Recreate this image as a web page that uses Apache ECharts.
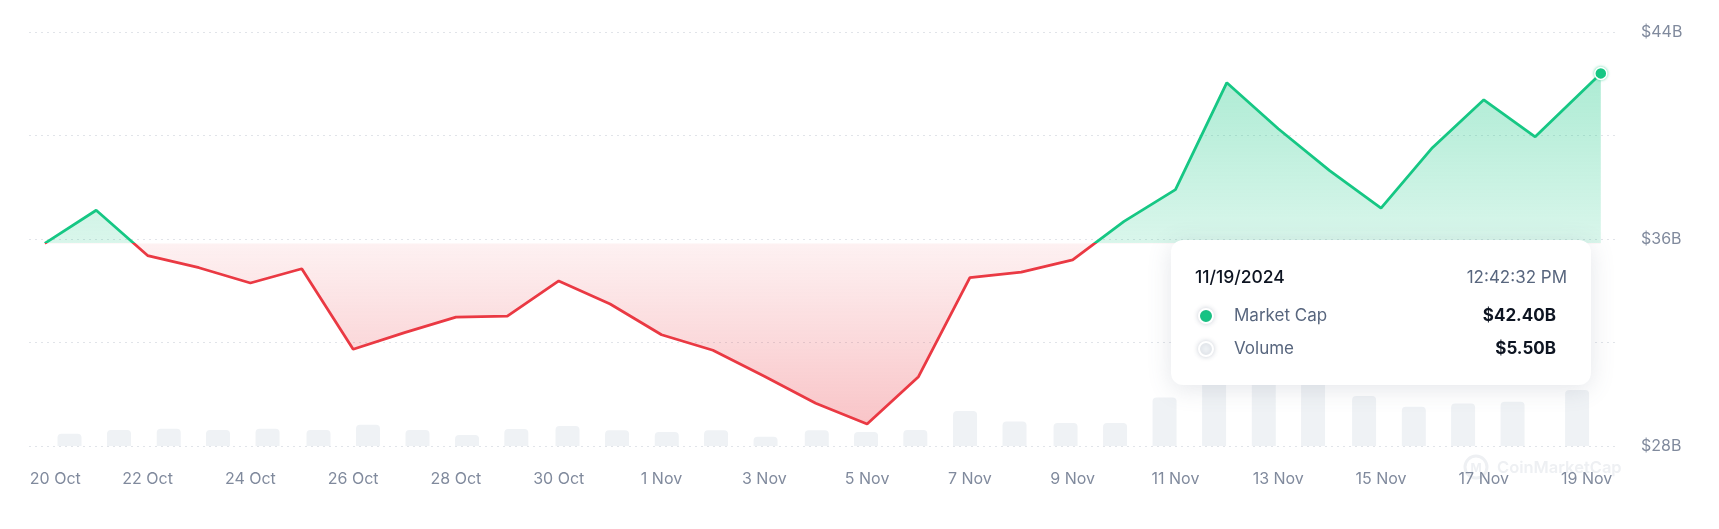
<!DOCTYPE html>
<html><head><meta charset="utf-8">
<script src="https://cdn.jsdelivr.net/npm/echarts@6/dist/echarts.min.js"></script>
<style>html,body{margin:0;padding:0;background:#fff;overflow:hidden}#c{width:1719px;height:529px}</style>
</head><body><div id="c"></div>
<script>
// ---- data (values in billions of USD) ----
const capTimes = ['2024-10-20 00:00','2024-10-21 00:00','2024-10-22 00:00','2024-10-23 00:00','2024-10-24 00:00','2024-10-25 00:00','2024-10-26 00:00','2024-10-27 00:00','2024-10-28 00:00','2024-10-29 00:00','2024-10-30 00:00','2024-10-31 00:00','2024-11-01 00:00','2024-11-02 00:00','2024-11-03 00:00','2024-11-04 00:00','2024-11-05 00:00','2024-11-06 00:00','2024-11-07 00:00','2024-11-08 00:00','2024-11-09 00:00','2024-11-10 00:00','2024-11-11 00:00','2024-11-12 00:00','2024-11-13 00:00','2024-11-14 00:00','2024-11-15 00:00','2024-11-16 00:00','2024-11-17 00:00','2024-11-18 00:00','2024-11-19 06:38'];
const capValues = [35.83,37.11,35.36,34.89,34.30,34.85,31.74,32.38,32.98,33.02,34.38,33.49,32.30,31.70,30.70,29.65,28.85,30.68,34.51,34.72,35.19,36.68,37.91,42.04,40.26,38.64,37.19,39.53,41.38,39.95,42.40];
const volTimes = ['2024-10-20 11:32','2024-10-21 10:39','2024-10-22 09:52','2024-10-23 08:53','2024-10-24 08:01','2024-10-25 07:49','2024-10-26 06:56','2024-10-27 06:03','2024-10-28 05:11','2024-10-29 04:12','2024-10-30 04:06','2024-10-31 03:14','2024-11-01 02:27','2024-11-02 01:28','2024-11-03 00:35','2024-11-04 00:30','2024-11-04 23:31','2024-11-05 22:32','2024-11-06 21:45','2024-11-07 20:51','2024-11-08 20:41','2024-11-09 19:48','2024-11-10 18:55','2024-11-11 18:03','2024-11-12 17:15','2024-11-13 16:16','2024-11-14 16:06','2024-11-15 15:19','2024-11-16 14:20','2024-11-17 13:26','2024-11-18 19:34'];
const volValues = [1.21,1.57,1.70,1.57,1.70,1.57,2.09,1.57,1.08,1.67,1.96,1.54,1.37,1.54,0.91,1.54,1.37,1.57,3.44,2.42,2.26,2.26,4.78,7.9,8.6,7.1,4.91,3.86,4.19,4.35,5.50];
const xTickDates = ['2024-10-20','2024-10-22','2024-10-24','2024-10-26','2024-10-28','2024-10-30','2024-11-01','2024-11-03','2024-11-05','2024-11-07','2024-11-09','2024-11-11','2024-11-13','2024-11-15','2024-11-17','2024-11-19'];
const xTickLabels = ['20 Oct','22 Oct','24 Oct','26 Oct','28 Oct','30 Oct','1 Nov','3 Nov','5 Nov','7 Nov','9 Nov','11 Nov','13 Nov','15 Nov','17 Nov','19 Nov'];
const yTickValues = [28,32,36,40,44];
const yTickLabels = ['$28B','','$36B','','$44B'];
const tipDate = '11/19/2024';
const tipTime = '12:42:32 PM';
const seriesNames = ['Market Cap','Volume'];

function ts(s){const p=s.split(' ');const d=p[0].split('-').map(Number);const t=(p[1]||'00:00').split(':').map(Number);return Date.UTC(d[0],d[1]-1,d[2],t[0],t[1]);}
const capData = capTimes.map((t,i)=>[ts(t),capValues[i]]);
const volData = volTimes.map((t,i)=>[ts(t),volValues[i]]);
const tickTs = xTickDates.map(ts);
const base = capValues[0];
const last = capData.length-1;
const GREEN='#16c784', RED='#ea3943', FONT='Inter';

const chart = echarts.init(document.getElementById('c'), null, {renderer:'canvas'});
const fmtB = v => '$' + v.toFixed(2) + 'B';

chart.setOption({
  animation:false,
  grid:{left:29,right:104,top:32,bottom:83,containLabel:false},
  xAxis:{type:'value',min:ts('2024-10-19 16:37'),max:ts('2024-11-19 13:16'),scale:true,
    axisLine:{show:false},axisTick:{show:false},splitLine:{show:false},
    axisLabel:{customValues:tickTs,margin:25,fontFamily:FONT,fontSize:16,color:'#808a9d',hideOverlap:false,
      formatter:function(v){const i=tickTs.indexOf(v);if(i<0)return '';return i===0?'{f|'+xTickLabels[i]+'}':xTickLabels[i];},
      rich:{f:{padding:[0,0,0,21],fontFamily:FONT,fontSize:16,color:'#808a9d'}}}},
  yAxis:[
    {type:'value',position:'right',min:28,max:44,interval:4,
      axisLine:{show:false},axisTick:{show:false},
      splitLine:{show:true,lineStyle:{color:'#e1e4e9',width:1,type:[2,4]}},
      axisLabel:{margin:26,fontFamily:FONT,fontSize:16,color:'#808a9d',
        formatter:function(v){const i=yTickValues.indexOf(v);return i<0?'':yTickLabels[i];}}},
    {type:'value',min:0,max:40.7,show:false,splitLine:{show:false}}
  ],
  series:[
    {id:'cap',name:seriesNames[0],type:'line',data:capData,yAxisIndex:0,showSymbol:false,z:3,
      lineStyle:{width:2.8,color:GREEN},
      areaStyle:{origin:base,opacity:1,color:'rgba(22,199,132,0.2)'},
      markPoint:{silent:true,symbol:'circle',symbolSize:12,label:{show:false},
        itemStyle:{color:GREEN,borderColor:'#ffffff',borderWidth:1.5,shadowBlur:3,shadowColor:'rgba(22,199,132,0.55)'},
        data:[{coord:capData[last]}]}},
    {id:'vol',name:seriesNames[1],type:'bar',data:volData,yAxisIndex:1,barWidth:24,z:1,
      itemStyle:{color:'#eff2f5',borderRadius:[4,4,0,0]}}
  ]
});

// colours keyed to the baseline (first value), placed through the axis scale
const yTop = chart.convertToPixel({yAxisIndex:0},44);
const yBot = chart.convertToPixel({yAxisIndex:0},28);
const yBase = chart.convertToPixel({yAxisIndex:0},base);
const off = (yBase-yTop)/(yBot-yTop);
const G = echarts.graphic.LinearGradient;
chart.setOption({series:[{id:'cap',
  lineStyle:{width:2.8,color:new G(0,yTop,0,yBot,[
    {offset:0,color:GREEN},{offset:off,color:GREEN},{offset:off,color:RED},{offset:1,color:RED}],true)},
  areaStyle:{origin:base,opacity:1,color:new G(0,yTop,0,yBot,[
    {offset:0,color:'rgba(22,199,132,0.40)'},
    {offset:off,color:'rgba(22,199,132,0.16)'},
    {offset:off,color:'rgba(234,57,67,0.07)'},
    {offset:1,color:'rgba(234,57,67,0.32)'}],true)}}]});

// tooltip card + watermark
const TX=1171, TY=240, ZT=100;
chart.setOption({graphic:[
  {type:'circle',z:0,silent:true,shape:{cx:1476,cy:467,r:11},style:{fill:'none',stroke:'#eef0f3',lineWidth:3}},
  {type:'text',z:0,silent:true,x:1476,y:468,style:{text:'M',align:'center',verticalAlign:'middle',font:'700 12px Inter',fill:'#eef0f3'}},
  {type:'text',z:0,silent:true,x:1497,y:468,style:{text:'CoinMarketCap',verticalAlign:'middle',font:'600 16.5px Inter',fill:'#eef0f3'}},
  {type:'rect',z:ZT,silent:true,shape:{x:TX,y:TY,width:420,height:145,r:12},style:{fill:'#ffffff',shadowBlur:24,shadowOffsetY:4,shadowColor:'rgba(88,102,126,0.16)'}},
  {type:'text',z:ZT+1,silent:true,x:TX+24,y:TY+38,style:{text:tipDate,verticalAlign:'middle',font:'500 17.5px Inter',fill:'#0d1421'}},
  {type:'text',z:ZT+1,silent:true,x:TX+396,y:TY+38,style:{text:tipTime,align:'right',verticalAlign:'middle',font:'400 17px Inter',fill:'#58667e'}},
  {type:'circle',z:ZT+1,silent:true,shape:{cx:TX+35,cy:TY+76,r:7},style:{fill:GREEN,stroke:'#fff',lineWidth:2,shadowBlur:5,shadowColor:'rgba(88,102,126,0.25)'}},
  {type:'text',z:ZT+1,silent:true,x:TX+63,y:TY+76,style:{text:seriesNames[0],verticalAlign:'middle',font:'400 17px Inter',fill:'#58667e'}},
  {type:'text',z:ZT+1,silent:true,x:TX+385,y:TY+76,style:{text:fmtB(capValues[last]),align:'right',verticalAlign:'middle',font:'700 17px Inter',fill:'#0d1421'}},
  {type:'circle',z:ZT+1,silent:true,shape:{cx:TX+35,cy:TY+109,r:7},style:{fill:'#eff2f5',stroke:'#fff',lineWidth:2,shadowBlur:5,shadowColor:'rgba(88,102,126,0.25)'}},
  {type:'text',z:ZT+1,silent:true,x:TX+63,y:TY+109,style:{text:seriesNames[1],verticalAlign:'middle',font:'400 17px Inter',fill:'#58667e'}},
  {type:'text',z:ZT+1,silent:true,x:TX+385,y:TY+109,style:{text:fmtB(volValues[last]),align:'right',verticalAlign:'middle',font:'700 17px Inter',fill:'#0d1421'}}
]});
</script></body></html>
